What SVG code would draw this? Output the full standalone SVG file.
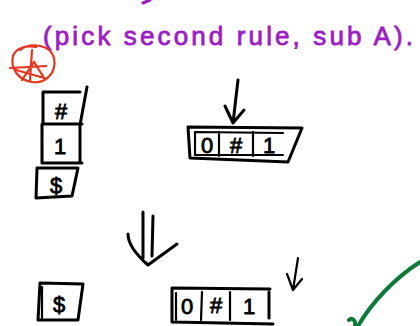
<svg xmlns="http://www.w3.org/2000/svg" width="420" height="326" viewBox="0 0 420 326">
<style>
.ink{fill:none;stroke:#000;stroke-width:3;stroke-linecap:round;stroke-linejoin:round}
.thin{fill:none;stroke:#000;stroke-width:2.2;stroke-linecap:round;stroke-linejoin:round}
.lbl{font-family:"Liberation Sans","DejaVu Sans",sans-serif;font-size:22px;fill:#000;stroke:#000;stroke-width:0.8;text-anchor:middle}
.purple{font-family:"Liberation Sans","DejaVu Sans",sans-serif;font-size:26px;fill:#9d1cc4;stroke:#9d1cc4;stroke-width:0.8}
</style>
<rect width="420" height="326" fill="#fff"/>
<path d="M143,3 L150,0" stroke="#9d1cc4" stroke-width="3" fill="none" stroke-linecap="round"/>
<text class="purple" x="43" y="45" textLength="370" lengthAdjust="spacing">(pick second rule, sub A).</text>
<g id="star-mark" fill="none" stroke="#e8341c" stroke-width="2.2" stroke-linecap="round">
<path d="M20,50 C30,42 50,44 54,58 C57,72 46,84 32,82 C18,80 10,68 13,56 C16,48 26,45 36,47"/>
<path d="M32,50 L30,80 M10,68 L46,66 M22,80 L34,62 L44,78 L16,70"/>
</g>
<g id="left-stack">
<path class="ink" d="M43,92 L80,92 M43,92 L43,124 M42,124 L82,124 M87,87 L80,125 L80,163 M42,124 L42,163 L82,163 M37,168 L78,168 L72,196 L36,198 L37,168"/>
<text class="lbl" x="61" y="119" font-size="28">#</text>
<text class="lbl" x="60" y="154">1</text>
<text class="lbl" x="56" y="193" font-size="24">$</text>
</g>
<g id="top-tape">
<path class="ink" d="M188,127 L302,128 L288,162 L190,158 L188,127 Z"/>
<path class="thin" d="M195,132 L283,133 M195,132 L195,155 L283,155 M219,132 L219,156 M253,132 L253,156"/>
<text class="lbl" x="207" y="153">0</text>
<text class="lbl" x="236" y="153">#</text>
<text class="lbl" x="269" y="153">1</text>
</g>
<g id="bottom-left">
<path class="ink" d="M40,283 L83,284 L78,320 L38,320 L40,283 Z"/>
<path class="thin" d="M42,287 L42,318"/>
<text class="lbl" x="59" y="312" font-size="26">$</text>
</g>
<g id="bottom-tape">
<path class="ink" d="M172,288 L270,289 M172,288 L172,322 L273,324 M269,292 L269,318"/>
<path class="thin" d="M176,293 L176,320 M202,292 L201,320 M230,292 L230,320"/>
<text class="lbl" x="187" y="314">0</text>
<text class="lbl" x="216" y="313">#</text>
<text class="lbl" x="249" y="314">1</text>
</g>
<g id="connectors">
<path class="ink" d="M238,80 L233,123 M225,106 L233,123 L244,110"/>
<path class="ink" d="M143,212 L143,258 M153,216 L152,256 M128,234 C128,246 140,258 148,265 L177,244"/>
<path class="thin" d="M298,258 L293,290 M287,274 L293,290 L302,279"/>
</g>
<g id="check" fill="none" stroke="#0e7a3a" stroke-width="4" stroke-linecap="round">
<path d="M420,262 C395,278 372,302 358,326"/>
<path d="M349,320 C352,317 356,320 355,326"/>
</g>
</svg>
